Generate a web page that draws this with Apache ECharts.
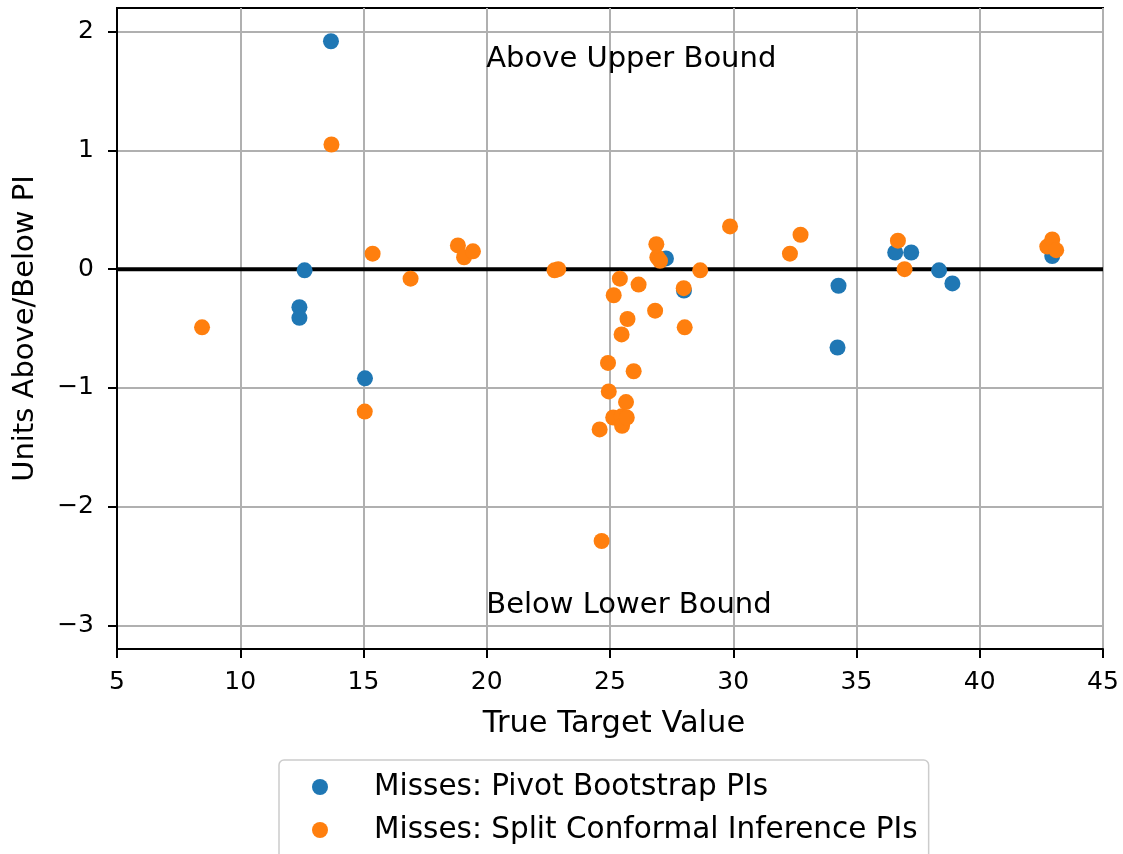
<!DOCTYPE html>
<html>
<head>
<meta charset="utf-8">
<script src="https://cdn.jsdelivr.net/npm/echarts@6/dist/echarts.min.js"></script>
<style>
  html, body { margin: 0; padding: 0; background: #ffffff; }
  #chart { width: 1123px; height: 854px; }
</style>
</head>
<body>
<div id="chart"></div>
<script>
// Misses of the pivot bootstrap prediction intervals
const pivotX = [12.4, 12.4, 12.61, 13.68, 15.06, 27.27, 28.0, 34.27, 34.23, 36.57, 37.22, 38.35, 38.89, 42.94];
const pivotY = [-0.32, -0.41, -0.01, 1.92, -0.92, 0.09, -0.18, -0.14, -0.66, 0.14, 0.14, -0.01, -0.12, 0.11];

// Misses of the split conformal inference prediction intervals
const conformalX = [8.45, 13.7, 15.05, 15.37, 16.91, 18.83, 19.08, 19.44, 22.75, 22.9,
  24.58, 24.66, 24.92, 24.95, 25.13, 25.15, 25.4, 25.47, 25.47, 25.49,
  25.65, 25.68, 25.71, 25.96, 26.16, 26.83, 26.88, 26.92, 27.03, 27.99,
  28.03, 28.66, 29.87, 32.3, 32.73, 36.68, 36.95, 42.74, 42.94, 43.1];
const conformalY = [-0.49, 1.05, -1.2, 0.13, -0.08, 0.2, 0.1, 0.15, -0.01, 0.0,
  -1.35, -2.29, -0.79, -1.03, -1.25, -0.22, -0.08, -0.55, -1.24, -1.32,
  -1.12, -1.25, -0.42, -0.86, -0.13, -0.35, 0.21, 0.1, 0.07, -0.16,
  -0.49, -0.01, 0.36, 0.13, 0.29, 0.24, 0.0, 0.19, 0.25, 0.16];

const seriesNames = ['Misses: Pivot Bootstrap PIs', 'Misses: Split Conformal Inference PIs'];
const xTicks = [5, 10, 15, 20, 25, 30, 35, 40, 45];
const yTicks = [-3, -2, -1, 0, 1, 2];
const notes = [
  { x: 20, y: 1.7, text: 'Above Upper Bound' },
  { x: 20, y: -2.9, text: 'Below Lower Bound' }
];

const FONT = 'DejaVu Sans';
const zip = (xs, ys) => xs.map((x, i) => [x, ys[i]]);
const minus = v => String(v).replace('-', '\u2212');

const chart = echarts.init(document.getElementById('chart'), null, { renderer: 'canvas' });

chart.setOption({
  animation: false,
  backgroundColor: '#ffffff',
  textStyle: { fontFamily: FONT, color: '#000' },
  grid: {
    left: 117, right: 20, top: 8, bottom: 205,
    show: true, borderColor: '#000', borderWidth: 2, backgroundColor: 'transparent'
  },
  xAxis: {
    type: 'value',
    min: xTicks[0], max: xTicks[xTicks.length - 1], interval: 5,
    name: 'True Target Value',
    nameLocation: 'middle', nameGap: 60,
    nameTextStyle: { fontFamily: FONT, fontSize: 30.5, color: '#000', padding: [0, 0, 0, 8] },
    axisLine: { show: true, onZero: false, lineStyle: { color: '#000', width: 2 } },
    axisTick: { show: true, inside: false, length: 9, lineStyle: { color: '#000', width: 2 } },
    axisLabel: { fontFamily: FONT, fontSize: 25, color: '#000', margin: 21, formatter: v => minus(v) },
    splitLine: { show: true, lineStyle: { color: '#b0b0b0', width: 2 } }
  },
  yAxis: {
    type: 'value',
    min: -3.2, max: 2.2,
    name: 'Units Above/Below PI',
    nameLocation: 'middle', nameGap: 77,
    nameTextStyle: { fontFamily: FONT, fontSize: 29, color: '#000' },
    axisLine: { show: true, onZero: false, lineStyle: { color: '#000', width: 2 } },
    axisTick: { show: true, inside: false, length: 9, customValues: yTicks, lineStyle: { color: '#000', width: 2 } },
    axisLabel: {
      fontFamily: FONT, fontSize: 25, color: '#000', margin: 23,
      customValues: yTicks,
      formatter: v => minus(v)
    },
    splitLine: { show: true, lineStyle: { color: '#b0b0b0', width: 2 } }
  },
  legend: {
    data: seriesNames,
    orient: 'vertical',
    left: 279, top: 760,
    height: 120,
    padding: [12, 11, 30, 33],
    itemGap: 13,
    itemWidth: 16, itemHeight: 16,
    icon: 'circle',
    backgroundColor: '#ffffff',
    borderColor: '#cccccc', borderWidth: 1.5, borderRadius: 5,
    textStyle: { fontFamily: FONT, fontSize: 29.5, color: '#000', padding: [0, 0, 0, 41] }
  },
  series: [
    {
      name: 'zero',
      type: 'line',
      data: [[xTicks[0], 0], [xTicks[xTicks.length - 1], 0]],
      showSymbol: false,
      lineStyle: { color: '#000', width: 4 },
      z: 1,
      silent: true
    },
    {
      name: seriesNames[0],
      type: 'scatter',
      data: zip(pivotX, pivotY),
      symbol: 'circle', symbolSize: 16,
      itemStyle: { color: '#1f77b4', opacity: 1 },
      z: 3
    },
    {
      name: seriesNames[1],
      type: 'scatter',
      data: zip(conformalX, conformalY),
      symbol: 'circle', symbolSize: 16,
      itemStyle: { color: '#ff7f0e', opacity: 1 },
      z: 4
    },
    {
      name: 'notes',
      type: 'scatter',
      data: notes.map(n => ({ value: [n.x, n.y], name: n.text })),
      symbolSize: 1,
      silent: true,
      z: 5,
      itemStyle: { color: 'rgba(255,255,255,0)', opacity: 1 },
      label: {
        show: true,
        position: [0, 0],
        align: 'left', verticalAlign: 'bottom',
        offset: [0, 7],
        opacity: 1,
        formatter: p => p.name,
        fontFamily: FONT, fontSize: 29, color: '#000'
      }
    }
  ]
});
</script>
</body>
</html>
